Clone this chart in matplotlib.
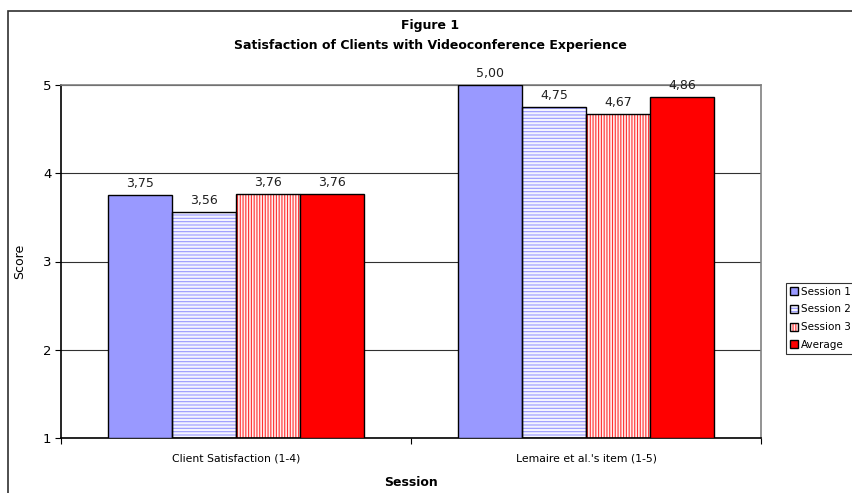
import numpy as np
import matplotlib.pyplot as plt
from matplotlib.patches import Rectangle
from matplotlib.legend_handler import HandlerTuple

# Data
categories = ["Client Satisfaction (1-4)", "Lemaire et al.'s item (1-5)"]
session1 = [3.75, 5.00]
session2 = [3.56, 4.75]
session3 = [3.76, 4.67]
average = [3.76, 4.86]
series_names = ["Session 1", "Session 2", "Session 3", "Average"]
yticks = [1, 2, 3, 4, 5]

plt.rcParams['font.family'] = ['DejaVu Sans']
plt.rcParams['hatch.linewidth'] = 0.8

fig = plt.figure(figsize=(8.52, 4.93), dpi=100)

# outer chart border (left and top visible, rest cropped)
fig.patches.append(Rectangle((8 / 852, -0.1), 1.2, (493 - 11) / 493 + 0.1,
                             transform=fig.transFigure, fill=False,
                             edgecolor='#303030', linewidth=1.2, zorder=0))

ax = fig.add_axes([61 / 852, (493 - 438) / 493, 700 / 852, (438 - 85) / 493])

x = np.arange(len(categories)) + 0.5
w = 0.183
offsets = [-1.5 * w, -0.5 * w, 0.5 * w, 1.5 * w]
all_series = [session1, session2, session3, average]
styles = [
    dict(face='#9999FF', hatch=None, hcolor=None),
    dict(face='#F4F4FF', hatch='-----', hcolor='#9999FF'),
    dict(face='#FFF0F0', hatch='||||||', hcolor='#FF3030'),
    dict(face='#FF0000', hatch=None, hcolor=None),
]

handles = []
for vals, off, st, name in zip(all_series, offsets, styles, series_names):
    bottoms = [1] * len(vals)
    heights = [v - 1 for v in vals]
    if st['hatch']:
        hb = ax.bar(x + off, heights, w, bottom=bottoms, color=st['face'],
                    edgecolor=st['hcolor'], hatch=st['hatch'], linewidth=0, zorder=2)
        ob = ax.bar(x + off, heights, w, bottom=bottoms, facecolor='none',
                    edgecolor='black', linewidth=1.0, zorder=3)
        handles.append((hb[0], ob[0]))
    else:
        b = ax.bar(x + off, heights, w, bottom=bottoms, color=st['face'],
                   edgecolor='black', linewidth=1.0, zorder=3)
        handles.append(b[0])
    for xi, v in zip(x + off, vals):
        ax.text(xi, v + 0.06, f"{v:.2f}".replace('.', ','), ha='center',
                va='bottom', fontsize=9, color='#202020')

ax.set_ylim(1, 5)
ax.set_xlim(0, 2)
ax.set_yticks(yticks)
ax.set_yticklabels([str(t) for t in yticks], fontsize=9.5)
ax.yaxis.grid(True, color='#303030', linewidth=0.8)
ax.set_axisbelow(True)

ax.set_xticks([0, 1, 2])
ax.set_xticklabels([])
ax.set_xticks(x, minor=True)
ax.set_xticklabels(categories, minor=True, fontsize=7.8)
ax.tick_params(axis='x', which='minor', length=0, pad=11)
ax.tick_params(axis='x', which='major', length=4, direction='out')
ax.tick_params(axis='y', length=4, direction='out', pad=3)

for s in ['left', 'bottom']:
    ax.spines[s].set_color('black')
    ax.spines[s].set_linewidth(1.2)
for s in ['top', 'right']:
    ax.spines[s].set_color('#808080')
    ax.spines[s].set_linewidth(1.2)

ax.set_ylabel('Score', fontsize=9, labelpad=12)
ax.set_xlabel('Session', fontsize=9, fontweight='bold', labelpad=9)

fig.text(430 / 852, 1 - 26 / 493, 'Figure 1', ha='center', va='center',
         fontsize=9, fontweight='bold')
fig.text(430 / 852, 1 - 45 / 493,
         'Satisfaction of Clients with Videoconference Experience',
         ha='center', va='center', fontsize=9, fontweight='bold')

leg = fig.legend(handles=handles, labels=series_names, loc='upper left',
                 bbox_to_anchor=(786 / 852, 1 - 283 / 493), fontsize=7.5,
                 handler_map={tuple: HandlerTuple(ndivide=1, pad=0)},
                 frameon=True, fancybox=False, edgecolor='black',
                 handlelength=0.8, handleheight=0.8, handletextpad=0.3,
                 labelspacing=0.75, borderpad=0.35, borderaxespad=0)
leg.get_frame().set_linewidth(0.8)

fig.savefig('out.png', dpi=100)
